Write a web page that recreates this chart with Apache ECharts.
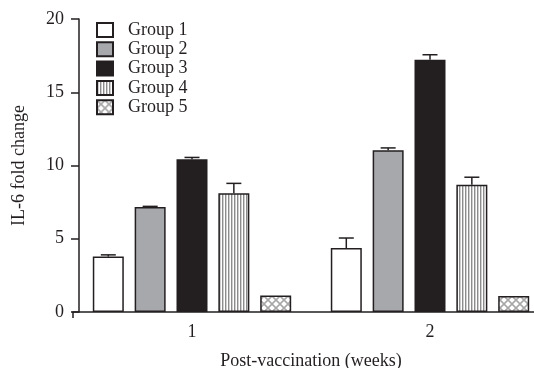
<!DOCTYPE html>
<html>
<head>
<meta charset="utf-8">
<script src="https://cdn.jsdelivr.net/npm/echarts@6/dist/echarts.min.js"></script>
<style>html,body{margin:0;padding:0;background:#fff}#c{width:534px;height:368px}</style>
</head>
<body>
<div id="c"></div>
<script>
// ---- data ----
var weeks = ['1', '2'];
var groups = ['Group 1', 'Group 2', 'Group 3', 'Group 4', 'Group 5'];
var group1 = [3.78, 4.37];
var group2 = [7.17, 11.04];
var group3 = [10.42, 17.22];
var group4 = [8.10, 8.69];
var group5 = [1.12, 1.09];
var err1 = [0.12, 0.68];
var err2 = [0.04, 0.16];
var err3 = [0.13, 0.34];
var err4 = [0.68, 0.51];
var err5 = [0, 0];
var yTicks = [0, 5, 10, 15, 20];

var means = [group1, group2, group3, group4, group5];
var errs = [err1, err2, err3, err4, err5];

// ---- patterns ----
function stripePattern() {
  var c = document.createElement('canvas');
  c.width = 3; c.height = 10;
  var x = c.getContext('2d');
  x.fillStyle = '#ffffff'; x.fillRect(0, 0, 3, 10);
  x.fillStyle = '#8c8c8c'; x.fillRect(0, 0, 1, 10);
  x.fillStyle = '#cfcfcf'; x.fillRect(1, 0, 1, 10);
  return c;
}
function hatchPattern() {
  var c = document.createElement('canvas');
  c.width = 8; c.height = 8;
  var x = c.getContext('2d');
  x.fillStyle = '#ffffff'; x.fillRect(0, 0, 8, 8);
  x.strokeStyle = '#a8a8a8'; x.lineWidth = 1.6;
  x.beginPath();
  x.moveTo(0, 0); x.lineTo(8, 8);
  x.moveTo(8, 0); x.lineTo(0, 8);
  x.stroke();
  return c;
}

var ink = '#231f20';
var fills = [
  '#ffffff',
  '#a7a8ac',
  ink,
  { image: stripePattern(), repeat: 'repeat' },
  { image: hatchPattern(), repeat: 'repeat' }
];

var BAR_W = 31, BAR_GAP = 0.35;
var series = [];
groups.forEach(function (g, i) {
  series.push({
    name: g, type: 'bar', data: means[i],
    barWidth: BAR_W, barGap: (BAR_GAP * 100) + '%',
    itemStyle: { color: fills[i], borderColor: ink, borderWidth: 1.5 },
    z: 2
  });
});
groups.forEach(function (g, i) {
  var d = weeks.map(function (w, k) { return [k, means[i][k], means[i][k] + errs[i][k]]; });
  series.push({
    name: 'err' + i, type: 'custom', data: d, z: 3,
    encode: { x: 0, y: 2 },
    renderItem: function (params, api) {
      var k = api.value(0);
      var e = api.value(2) - api.value(1);
      if (e <= 0) return null;
      var off = (i - 2) * BAR_W * (1 + BAR_GAP);
      var p0 = api.coord([k, api.value(1)]);
      var p1 = api.coord([k, api.value(2)]);
      var cx = p0[0] + off;
      var st = { stroke: ink, lineWidth: 1.5 };
      return {
        type: 'group', children: [
          { type: 'line', shape: { x1: cx, y1: p0[1], x2: cx, y2: p1[1] }, style: st },
          { type: 'line', shape: { x1: cx - 7.5, y1: p1[1], x2: cx + 7.5, y2: p1[1] }, style: st }
        ]
      };
    }
  });
});

var font = 'Liberation Serif';
var FS = 18;
var chart = echarts.init(document.getElementById('c'), null, { renderer: 'canvas' });
chart.setOption({
  animation: false,
  backgroundColor: '#ffffff',
  textStyle: { fontFamily: font, color: ink },
  grid: { left: 73, right: -15, top: 19, bottom: 56, containLabel: false, outerBoundsMode: 'none' },
  legend: {
    data: groups, orient: 'vertical', left: 91, top: 16,
    icon: 'rect', itemWidth: 16, itemHeight: 14, itemGap: 1.3,
    textStyle: { fontFamily: font, fontSize: FS, color: ink, padding: [0, 0, 0, 10] },
    selectedMode: false
  },
  xAxis: {
    type: 'category', data: weeks,
    name: 'Post-vaccination (weeks)', nameLocation: 'middle', nameGap: 40,
    nameTextStyle: { fontFamily: font, fontSize: FS, color: ink },
    axisLine: { lineStyle: { color: ink, width: 1.5 } },
    axisTick: { show: true, alignWithLabel: false, length: 6, interval: function (i) { return i !== 0; },
      lineStyle: { color: ink, width: 1.5 } },
    axisLabel: { fontFamily: font, fontSize: FS, color: ink, margin: 11 }
  },
  yAxis: {
    type: 'value', min: yTicks[0], max: yTicks[yTicks.length - 1], interval: 5, offset: -6,
    name: 'IL-6 fold change', nameLocation: 'middle', nameGap: 51,
    nameTextStyle: { fontFamily: font, fontSize: FS, color: ink },
    axisLine: { show: true, lineStyle: { color: ink, width: 1.5 } },
    axisTick: { show: true, length: 8, lineStyle: { color: ink, width: 1.5 } },
    axisLabel: { fontFamily: font, fontSize: FS, color: ink, margin: 15 },
    splitLine: { show: false }
  },
  series: series
});
</script>
</body>
</html>
